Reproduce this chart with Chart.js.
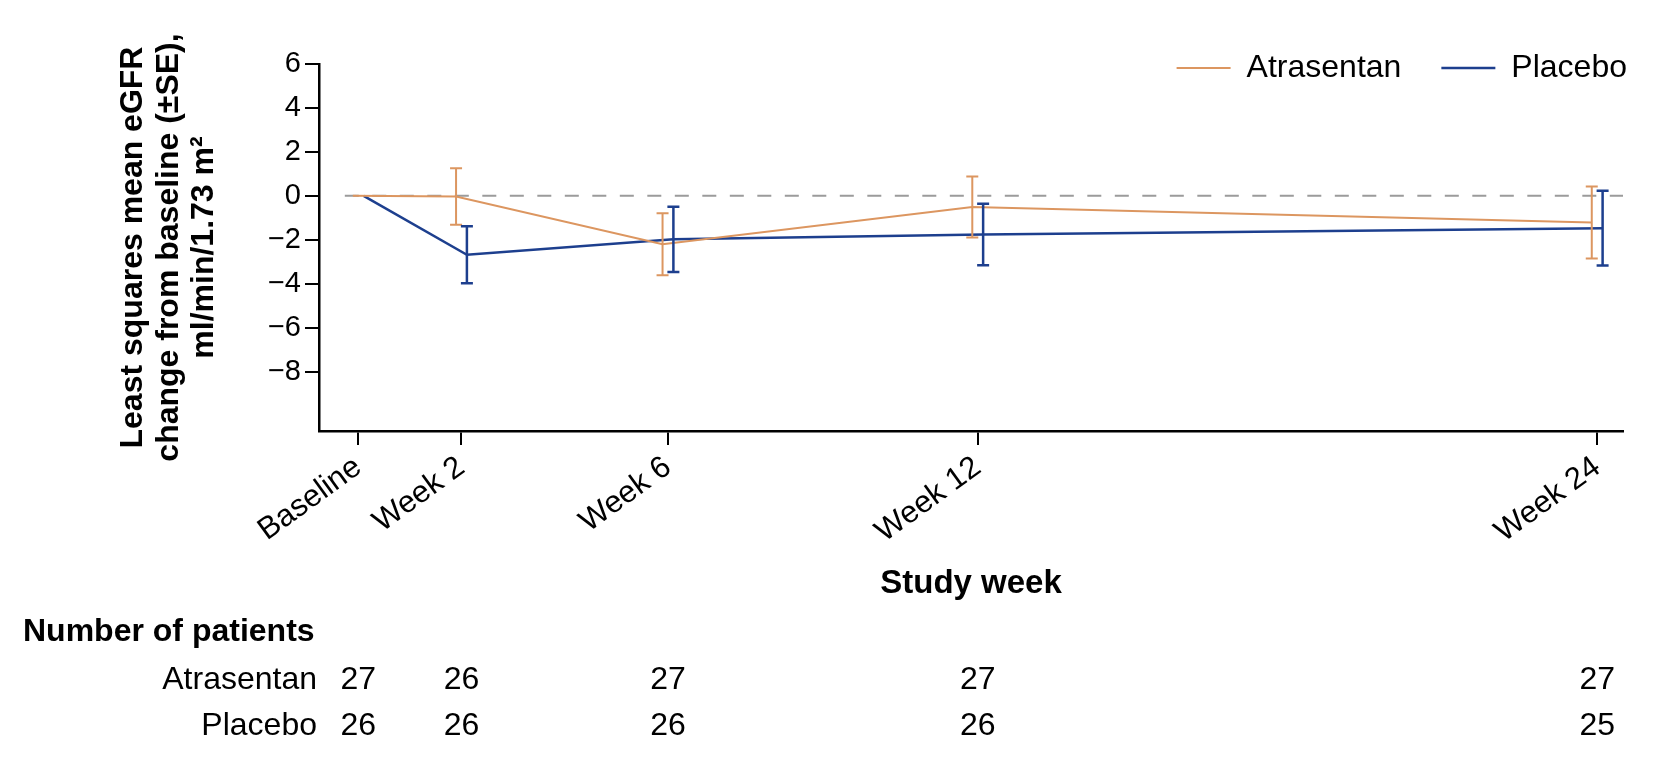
<!DOCTYPE html>
<html>
<head>
<meta charset="utf-8">
<script src="https://cdn.jsdelivr.net/npm/chart.js@4"></script>
<style>
  html, body { margin: 0; padding: 0; background: #fff; }
  #wrap { width: 1670px; height: 768px; }
</style>
</head>
<body>
<div id="wrap"><canvas id="egfrChart" width="1670" height="768"></canvas></div>
<script>
// data
const weeks = [0, 2, 6, 12, 24];
const weekLabels = ['Baseline', 'Week 2', 'Week 6', 'Week 12', 'Week 24'];
const yTicks = [-8, -6, -4, -2, 0, 2, 4, 6];

const atrasentanMean = [0, -0.03, -2.2, -0.51, -1.21];
const atrasentanSE = [0, 1.29, 1.41, 1.39, 1.64];
const placeboMean = [0, -2.68, -1.98, -1.76, -1.47];
const placeboSE = [0, 1.3, 1.48, 1.4, 1.7];

const atrasentanN = [27, 26, 27, 27, 27];
const placeboN = [26, 26, 26, 26, 25];

const ORANGE = '#dc9660';
const BLUE = '#1d3f8e';
const FONT = "'Liberation Sans', Arial, Helvetica, sans-serif";
const DODGE = 0.105; // small horizontal shift so bars don't overlap

const pts = (means, shift) => weeks.map((w, i) => ({ x: w + shift, y: means[i] }));

// error bars (±SE)
const errorBars = {
  id: 'errorBars',
  afterDatasetsDraw(chart) {
    const { ctx, scales: { x, y } } = chart;
    const groups = [
      { mean: atrasentanMean, se: atrasentanSE, shift: -DODGE, color: ORANGE, width: 2 },
      { mean: placeboMean, se: placeboSE, shift: DODGE, color: BLUE, width: 2.5 }
    ];
    ctx.save();
    groups.forEach(g => {
      ctx.strokeStyle = g.color;
      ctx.lineWidth = g.width;
      weeks.forEach((w, i) => {
        if (!g.se[i]) return;
        const px = x.getPixelForValue(w + g.shift);
        const top = y.getPixelForValue(g.mean[i] + g.se[i]);
        const bot = y.getPixelForValue(g.mean[i] - g.se[i]);
        ctx.beginPath();
        ctx.moveTo(px, top); ctx.lineTo(px, bot);
        ctx.moveTo(px - 6, top); ctx.lineTo(px + 6, top);
        ctx.moveTo(px - 6, bot); ctx.lineTo(px + 6, bot);
        ctx.stroke();
      });
    });
    ctx.restore();
  }
};

// number-of-patients table under the axis
const patientTable = {
  id: 'patientTable',
  afterDraw(chart) {
    const { ctx, scales: { x } } = chart;
    ctx.save();
    ctx.fillStyle = '#000';
    ctx.textBaseline = 'alphabetic';
    ctx.font = `bold 32px ${FONT}`;
    ctx.textAlign = 'left';
    ctx.fillText('Number of patients', 23, 641);
    ctx.font = `32px ${FONT}`;
    ctx.textAlign = 'right';
    ctx.fillText('Atrasentan', 317, 689);
    ctx.fillText('Placebo', 317, 735);
    ctx.textAlign = 'center';
    weeks.forEach((w, i) => {
      const px = x.getPixelForValue(w);
      ctx.fillText(String(atrasentanN[i]), px, 689);
      ctx.fillText(String(placeboN[i]), px, 735);
    });
    ctx.restore();
  }
};

// put the legend up at the top-right corner, level with the 6 tick
const legendPlace = {
  id: 'legendPlace',
  afterLayout(chart) {
    const l = chart.legend;
    l.top = 68 - 40 - 16;
    l.bottom = l.top + 100;
    l.left = 0;
    l.right = 1667;
  }
};

new Chart(document.getElementById('egfrChart'), {
  type: 'line',
  data: {
    datasets: [
      {
        label: 'Atrasentan',
        data: pts(atrasentanMean, -DODGE),
        borderColor: ORANGE,
        backgroundColor: ORANGE,
        borderWidth: 2,
        pointRadius: 0,
        order: 1
      },
      {
        label: 'Placebo',
        data: pts(placeboMean, DODGE),
        borderColor: BLUE,
        backgroundColor: BLUE,
        borderWidth: 2.5,
        pointRadius: 0,
        order: 2
      },
      {
        label: 'zero',
        data: [{ x: -0.26, y: 0 }, { x: 24.5, y: 0 }],
        borderColor: '#9b9b9b',
        borderWidth: 2,
        borderDash: [14, 13.5],
        pointRadius: 0,
        order: 3
      }
    ]
  },
  options: {
    responsive: false,
    animation: false,
    devicePixelRatio: 1,
    layout: { padding: { top: 54, right: 47, bottom: 166, left: 0 } },
    plugins: {
      tooltip: { enabled: false },
      legend: {
        position: 'top',
        align: 'end',
        maxHeight: 10,
        labels: {
          filter: item => item.datasetIndex < 2,
          usePointStyle: true,
          pointStyle: 'line',
          pointStyleWidth: 54,
          padding: 40,
          color: '#000',
          font: { family: FONT, size: 32 }
        }
      }
    },
    scales: {
      x: {
        type: 'linear',
        min: -0.76,
        max: 24.5,
        afterBuildTicks: s => { s.ticks = weeks.map(v => ({ value: v })); },
        afterFit: s => { s.height = 171; },
        ticks: {
          autoSkip: false,
          minRotation: 36,
          maxRotation: 36,
          padding: 4,
          color: '#000',
          font: { family: FONT, size: 31 },
          callback: v => weekLabels[weeks.indexOf(v)]
        },
        grid: { drawOnChartArea: false, drawTicks: true, tickLength: 14, color: '#000', lineWidth: 2 },
        border: { color: '#000', width: 2.5 },
        title: {
          display: true,
          text: 'Study week',
          color: '#000',
          padding: { top: 0, bottom: 0 },
          font: { family: FONT, size: 33, weight: 'bold', lineHeight: 1.1 }
        }
      },
      y: {
        min: -10.7,
        max: 6,
        afterBuildTicks: s => { s.ticks = yTicks.map(v => ({ value: v })); },
        afterFit: s => { s.width = 319; },
        ticks: {
          padding: 4,
          color: '#000',
          font: { family: FONT, size: 29 },
          callback: v => String(v).replace('-', '\u2212')
        },
        grid: { drawOnChartArea: false, drawTicks: true, tickLength: 14, color: '#000', lineWidth: 2 },
        border: { color: '#000', width: 2.5 },
        title: {
          display: true,
          text: ['Least squares mean eGFR', 'change from baseline (\u00b1SE),', 'ml/min/1.73 m\u00b2'],
          color: '#000',
          padding: { top: 116, bottom: 0 },
          font: { family: FONT, size: 32, weight: 'bold', lineHeight: 1.1 }
        }
      }
    }
  },
  plugins: [errorBars, patientTable, legendPlace]
});
</script>
</body>
</html>
